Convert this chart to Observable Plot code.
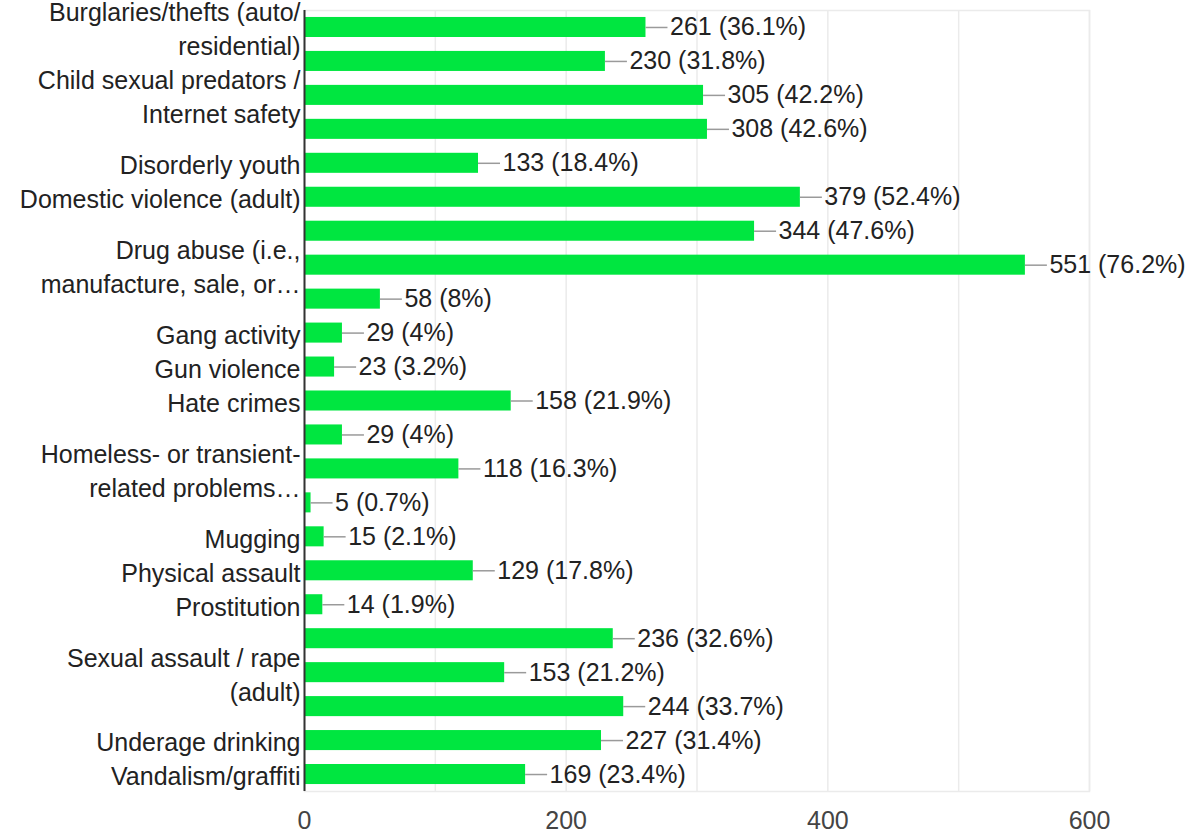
<!DOCTYPE html>
<html>
<head>
<meta charset="utf-8">
<script src="https://cdn.jsdelivr.net/npm/d3@7"></script>
<script src="https://cdn.jsdelivr.net/npm/@observablehq/plot@0.6"></script>
<style>
  html, body { margin: 0; padding: 0; background: #fff; }
  #chart svg { display: block; }
</style>
</head>
<body>
<div id="chart"></div>
<script>
// Categories (alphabetical, as in the source survey). Labels the original chart hid
// because of overlap are kept here but rendered blank.
const categories = [
  "Burglaries/thefts (auto/residential)",
  "Child abuse / neglect",
  "Child sexual predators / Internet safety",
  "Cyberbullying",
  "Disorderly youth",
  "Domestic violence (adult)",
  "Domestic violence (child)",
  "Drug abuse (i.e., manufacture, sale, or use)",
  "Fraud / scams",
  "Gang activity",
  "Gun violence",
  "Hate crimes",
  "Home invasion",
  "Homeless- or transient-related problems",
  "Human trafficking",
  "Mugging",
  "Physical assault",
  "Prostitution",
  "Sexual assault / rape (child)",
  "Sexual assault / rape (adult)",
  "Traffic safety",
  "Underage drinking",
  "Vandalism/graffiti"
];

// Tick labels as drawn in the reference ("" = hidden by the original renderer)
const tickLabels = [
  "Burglaries/thefts (auto/\nresidential)",
  "",
  "Child sexual predators /\nInternet safety",
  "",
  "Disorderly youth",
  "Domestic violence (adult)",
  "",
  "Drug abuse (i.e.,\nmanufacture, sale, or…",
  "",
  "Gang activity",
  "Gun violence",
  "Hate crimes",
  "",
  "Homeless- or transient-\nrelated problems…",
  "",
  "Mugging",
  "Physical assault",
  "Prostitution",
  "",
  "Sexual assault / rape\n(adult)",
  "",
  "Underage drinking",
  "Vandalism/graffiti"
];

const counts = [261, 230, 305, 308, 133, 379, 344, 551, 58, 29, 23, 158, 29, 118, 5, 15, 129, 14, 236, 153, 244, 227, 169];
const percents = ["36.1", "31.8", "42.2", "42.6", "18.4", "52.4", "47.6", "76.2", "8", "4", "3.2", "21.9", "4", "16.3", "0.7", "2.1", "17.8", "1.9", "32.6", "21.2", "33.7", "31.4", "23.4"];

const xTicks = [0, 200, 400, 600];
const gridTicks = [100, 200, 300, 400, 500, 600];

const data = categories.map((c, i) => ({
  category: c,
  label: tickLabels[i],
  count: counts[i],
  text: `${counts[i]} (${percents[i]}%)`
}));
const labelOf = new Map(data.map(d => [d.category, d.label]));

const W = 1196, H = 837;
const margin = {top: 10, right: 107, bottom: 46, left: 304};
const xMax = 600;
const pxPerUnit = (W - margin.left - margin.right) / xMax;
const leaderPx = 22;        // leader line length in pixels
const leaderUnits = leaderPx / pxPerUnit;

const FONT = "'Liberation Sans', Arial, sans-serif";
const FS = 25;

const chart = Plot.plot({
  width: W,
  height: H,
  marginTop: margin.top,
  marginRight: margin.right,
  marginBottom: margin.bottom,
  marginLeft: margin.left,
  style: {fontFamily: FONT, background: "#fff", overflow: "visible"},
  x: {domain: [0, xMax]},
  y: {domain: categories, paddingInner: 0.41, paddingOuter: 0.205, round: false},
  marks: [
    Plot.gridX(gridTicks, {stroke: "#ebebeb", strokeOpacity: 1, strokeWidth: 1.5}),
    Plot.frame({stroke: "#ebebeb", strokeWidth: 1.5}),
    Plot.barX(data, {x: "count", y: "category", fill: "#00e640"}),
    Plot.ruleY(data, {
      y: "category",
      x1: "count",
      x2: d => d.count + leaderUnits,
      stroke: "#9a9a9a",
      strokeWidth: 1.5
    }),
    Plot.text(data, {
      x: "count",
      y: "category",
      text: "text",
      dx: leaderPx + 2,
      textAnchor: "start",
      fill: "#222",
      fontSize: FS
    }),
    Plot.ruleX([0], {stroke: "#333", strokeWidth: 2}),
    Plot.axisY({
      tickSize: 0,
      tickPadding: 4,
      tickFormat: c => labelOf.get(c),
      fontSize: FS,
      lineHeight: 1.36,
      fill: "#222",
      label: null
    }),
    Plot.axisX(xTicks, {
      tickSize: 0,
      tickPadding: 20,
      fontSize: FS,
      fill: "#444",
      label: null
    })
  ]
});

document.getElementById("chart").appendChild(chart);
</script>
</body>
</html>
